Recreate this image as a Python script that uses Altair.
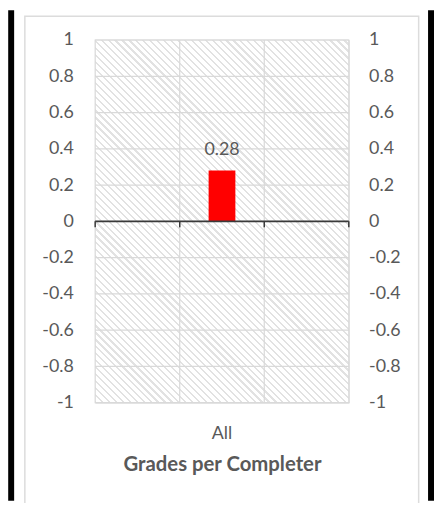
import altair as alt
import pandas as pd

# ---- data ----
categories = ["All"]
values = [0.28]
y_ticks = [1, 0.8, 0.6, 0.4, 0.2, 0, -0.2, -0.4, -0.6, -0.8, -1]
axis_title = "Grades per Completer"

# ---- layout / style ----
W, H = 256, 366
PAD = {"left": 88, "top": 30, "right": 86, "bottom": 99}
FONT = "Lato"
TXT = "#595959"
GRID = "#d9d9d9"
HATCH = "#e2e2e2"

df = pd.DataFrame({"cat": categories, "v": values})
tick_df = pd.DataFrame({"t": y_ticks})
one = pd.DataFrame({"k": [0]})

# diagonal hatch built as a striped linear gradient (45 degree "\" lines)
period, line_w = 7.0, 2.2
span = W + H
stops = []
pos = 0.0
while pos < span:
    a = pos / span
    b = min((pos + line_w) / span, 1.0)
    c = min((pos + period) / span, 1.0)
    stops += [
        alt.GradientStop(offset=a, color=HATCH),
        alt.GradientStop(offset=b, color=HATCH),
        alt.GradientStop(offset=b, color="#ffffff"),
        alt.GradientStop(offset=c, color="#ffffff"),
    ]
    pos += period
k = (W + H) / (W * W + H * H)
grad = alt.LinearGradient(gradient="linear", stops=stops,
                          x1=0, y1=1, x2=k * W, y2=1 - k * H)

xscale = alt.Scale(domain=categories, paddingInner=0, paddingOuter=1)
yscale = alt.Scale(domain=[-1, 1], nice=False)

lab_expr = "toString(round(datum.value*10)/10)"
left_axis = alt.Axis(orient="left", values=y_ticks, title=None, grid=False,
                     domain=False, ticks=False, tickSize=0, labelPadding=22,
                     labelExpr=lab_expr, labelFontSize=18, labelColor=TXT,
                     labelFont=FONT, labelOverlap=False)
right_axis = alt.Axis(orient="right", values=y_ticks, title=None, grid=False,
                      domain=False, ticks=False, tickSize=0, labelPadding=20,
                      labelExpr=lab_expr, labelFontSize=18, labelColor=TXT,
                      labelFont=FONT, labelOverlap=False, labelAlign="left")
x_axis = alt.Axis(orient="bottom", title=axis_title, labelAngle=0, domain=False,
                  ticks=False, tickSize=0, grid=False, labelPadding=22,
                  labelFontSize=18, labelColor=TXT, labelFont=FONT,
                  titleFontSize=20.5, titleFont=FONT, titleFontWeight="bold",
                  titleColor=TXT, titlePadding=13)

# decorations (frame of the picture)
frame = alt.Chart(one).mark_rect(filled=False, stroke="#dcdcdc", strokeWidth=1.5).encode(
    x=alt.value(-71), x2=alt.value(326.5), y=alt.value(-24), y2=alt.value(H + 104))
black_l = alt.Chart(one).mark_rule(color="#000000", strokeWidth=6).encode(
    x=alt.value(-84.8), y=alt.value(-30), y2=alt.value(H + 99))
black_r = alt.Chart(one).mark_rule(color="#000000", strokeWidth=6).encode(
    x=alt.value(339), y=alt.value(-30), y2=alt.value(H + 99))

hatch = alt.Chart(one).mark_rect(fill=grad).encode(
    x=alt.value(0), x2=alt.value(W),
    y=alt.Y(datum=1, type="quantitative", scale=yscale, axis=left_axis),
    y2=alt.Y2(datum=-1))

hgrid = alt.Chart(tick_df).mark_rule(color=GRID, strokeWidth=1.2).encode(
    y=alt.Y("t:Q", scale=yscale, axis=None), x=alt.value(0), x2=alt.value(W))

vgrid0 = alt.Chart(df).mark_rule(color=GRID, strokeWidth=1.2).encode(
    x=alt.X("cat:N", bandPosition=0, scale=xscale, axis=None),
    y=alt.Y(datum=1, type="quantitative", axis=None), y2=alt.Y2(datum=-1))
vgrid1 = alt.Chart(df).mark_rule(color=GRID, strokeWidth=1.2).encode(
    x=alt.X("cat:N", bandPosition=1, scale=xscale, axis=None),
    y=alt.Y(datum=1, type="quantitative", axis=None), y2=alt.Y2(datum=-1))
outline = alt.Chart(one).mark_rect(filled=False, stroke=GRID, strokeWidth=1.2).encode(
    x=alt.value(0), x2=alt.value(W),
    y=alt.Y(datum=1, type="quantitative", axis=None), y2=alt.Y2(datum=-1))

bar = alt.Chart(df).mark_bar(color="#ff0000", width=27).encode(
    x=alt.X("cat:N", scale=xscale, axis=x_axis),
    y=alt.Y("v:Q", scale=yscale, axis=right_axis))

label = alt.Chart(df).mark_text(baseline="alphabetic", dy=-16, fontSize=18,
                                font=FONT, color=TXT).encode(
    x=alt.X("cat:N", scale=xscale, axis=None),
    y=alt.Y("v:Q", axis=None),
    text=alt.Text("v:Q", format=".2f"))

zero = alt.Chart(one).mark_rule(color="#3a3a3a", strokeWidth=1.8).encode(
    y=alt.Y(datum=0, type="quantitative", axis=None), x=alt.value(0), x2=alt.value(W))

tick_len = -0.033
tick_b0 = alt.Chart(df).mark_rule(color="#3a3a3a", strokeWidth=1.5).encode(
    x=alt.X("cat:N", bandPosition=0, scale=xscale, axis=None),
    y=alt.Y(datum=0, type="quantitative", axis=None), y2=alt.Y2(datum=tick_len))
tick_b1 = alt.Chart(df).mark_rule(color="#3a3a3a", strokeWidth=1.5).encode(
    x=alt.X("cat:N", bandPosition=1, scale=xscale, axis=None),
    y=alt.Y(datum=0, type="quantitative", axis=None), y2=alt.Y2(datum=tick_len))
tick_l = alt.Chart(one).mark_rule(color="#3a3a3a", strokeWidth=1.5).encode(
    x=alt.value(0),
    y=alt.Y(datum=0, type="quantitative", axis=None), y2=alt.Y2(datum=tick_len))
tick_r = alt.Chart(one).mark_rule(color="#3a3a3a", strokeWidth=1.5).encode(
    x=alt.value(W),
    y=alt.Y(datum=0, type="quantitative", axis=None), y2=alt.Y2(datum=tick_len))

chart = alt.layer(
    frame, black_l, black_r, hatch, hgrid, vgrid0, vgrid1, outline,
    bar, label, zero, tick_b0, tick_b1, tick_l, tick_r
).resolve_axis(y="independent", x="independent").properties(
    width=W, height=H,
    autosize=alt.AutoSizeParams(type="none"),
    padding=PAD,
    background="#ffffff",
).configure_view(stroke=None).configure(font=FONT)

chart.save("out.html", embed_options={"renderer": "svg", "actions": False})
